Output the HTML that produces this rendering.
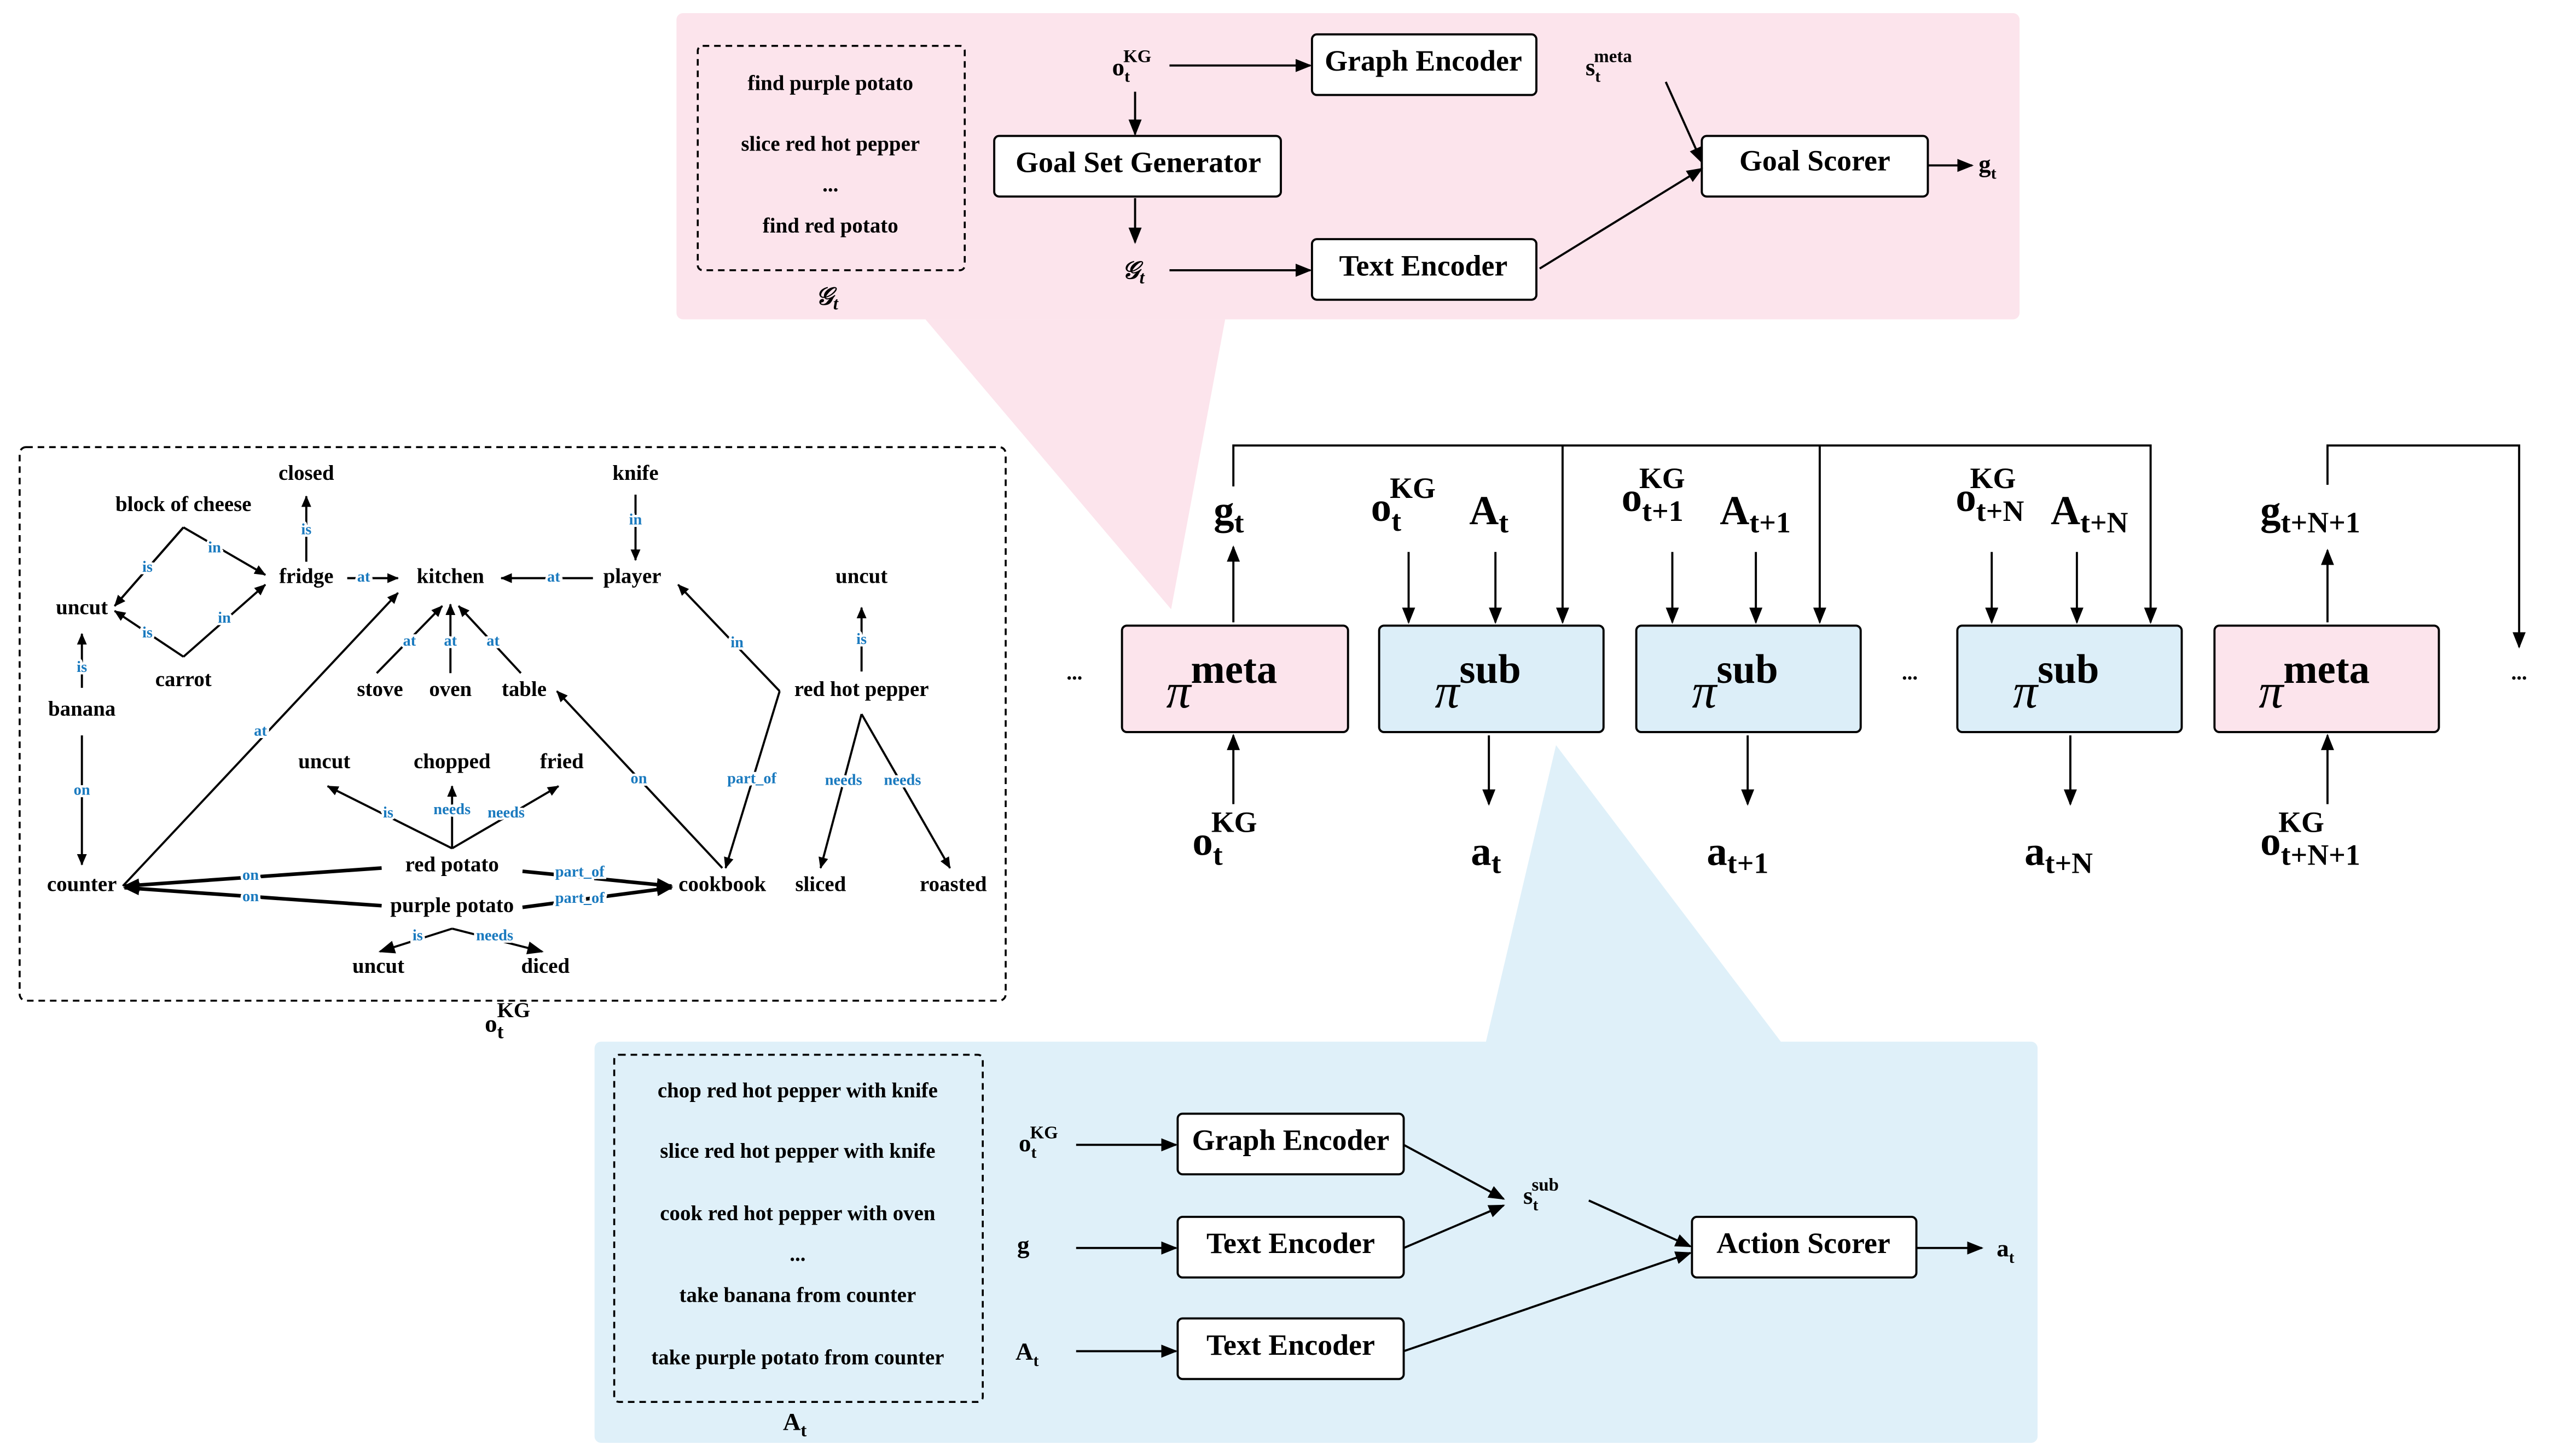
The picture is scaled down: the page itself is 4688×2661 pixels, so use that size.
<!DOCTYPE html>
<html><head><meta charset="utf-8"><style>
html,body{margin:0;padding:0;background:#fff;}
svg{display:block;}
text{font-family:"Liberation Serif",serif;font-weight:bold;fill:#000;}
.n{font-size:13px;text-anchor:middle;dominant-baseline:middle;}
.l{font-size:9.5px;fill:#1a7abf;text-anchor:middle;dominant-baseline:middle;stroke:#fff;stroke-width:3px;paint-order:stroke;}
.b{font-size:18px;text-anchor:middle;dominant-baseline:middle;}
.m{font-size:15px;}
.big{font-size:25px;}
.pi{font-size:30px;font-style:italic;font-weight:normal;}
line,polyline,path{stroke:#000;fill:none;stroke-width:1.3;}
.th{stroke-width:2.2;}
rect.box{fill:#fff;stroke:#000;stroke-width:1.3;}
</style></head><body>
<svg width="4688" height="2661" viewBox="0 0 1566 889" preserveAspectRatio="none" xmlns="http://www.w3.org/2000/svg">
<defs>
<marker id="a" markerWidth="10" markerHeight="8" refX="9" refY="4" orient="auto" markerUnits="userSpaceOnUse"><path d="M0,0 L10,4 L0,8 Z" style="fill:#000;stroke:none"/></marker>
<marker id="s" markerWidth="7" markerHeight="6" refX="6.5" refY="3" orient="auto" markerUnits="userSpaceOnUse"><path d="M0,0 L7,3 L0,6 Z" style="fill:#000;stroke:none"/></marker>
</defs>

<!-- pink panel -->
<polygon points="565,195 748,195 715,372" fill="#fce4ec"/>
<rect x="413" y="8" width="820" height="187" rx="4" fill="#fce4ec"/>
<rect x="426" y="28" width="163" height="137" rx="3" fill="none" stroke="#000" stroke-width="1.2" stroke-dasharray="4,3"/>
<text class="n" x="507" y="52">find purple potato</text>
<text class="n" x="507" y="89">slice red hot pepper</text>
<text class="n" x="507" y="114">...</text>
<text class="n" x="507" y="139">find red potato</text>
<text class="m" x="498" y="186" font-style="italic" font-weight="normal">𝒢<tspan font-size="11" dy="3">t</tspan></text>

<text class="m" x="679" y="46">o<tspan font-size="10" dy="4">t</tspan><tspan font-size="11" dx="-4" dy="-12">KG</tspan></text>
<line x1="714" y1="40" x2="800" y2="40" marker-end="url(#a)"/>
<rect class="box" x="801" y="21" width="137" height="37" rx="3"/>
<text class="b" x="869" y="39">Graph Encoder</text>
<text class="m" x="968" y="46">s<tspan font-size="10" dy="4">t</tspan><tspan font-size="11" dx="-4" dy="-12">meta</tspan></text>
<line x1="693" y1="56" x2="693" y2="82" marker-end="url(#a)"/>
<rect class="box" x="607" y="83" width="175" height="37" rx="3"/>
<text class="b" x="695" y="101">Goal Set Generator</text>
<line x1="693" y1="121" x2="693" y2="148" marker-end="url(#a)"/>
<text class="m" x="685" y="170" font-style="italic" font-weight="normal">𝒢<tspan font-size="11" dy="3">t</tspan></text>
<line x1="714" y1="165" x2="800" y2="165" marker-end="url(#a)"/>
<rect class="box" x="801" y="146" width="137" height="37" rx="3"/>
<text class="b" x="869" y="164">Text Encoder</text>
<rect class="box" x="1039" y="83" width="138" height="37" rx="3"/>
<text class="b" x="1108" y="100">Goal Scorer</text>
<line x1="1017" y1="50" x2="1039" y2="99" marker-end="url(#a)"/>
<line x1="940" y1="164" x2="1039" y2="103" marker-end="url(#a)"/>
<line x1="1177" y1="101" x2="1204" y2="101" marker-end="url(#a)"/>
<text class="m" x="1208" y="105">g<tspan font-size="10" dy="4">t</tspan></text>

<!-- blue panel -->
<polygon points="907,637 1088,637 950,455" fill="#dff0f9"/>
<rect x="363" y="636" width="881" height="245" rx="4" fill="#dff0f9"/>
<rect x="375" y="644" width="225" height="212" rx="3" fill="none" stroke="#000" stroke-width="1.2" stroke-dasharray="4,3"/>
<text class="n" x="487" y="667">chop red hot pepper with knife</text>
<text class="n" x="487" y="704">slice red hot pepper with knife</text>
<text class="n" x="487" y="742">cook red hot pepper with oven</text>
<text class="n" x="487" y="767">...</text>
<text class="n" x="487" y="792">take banana from counter</text>
<text class="n" x="487" y="830">take purple potato from counter</text>
<text class="m" x="478" y="873" font-size="17">A<tspan font-size="11" dy="4">t</tspan></text>
<text class="m" x="622" y="703">o<tspan font-size="10" dy="4">t</tspan><tspan font-size="11" dx="-4" dy="-12">KG</tspan></text>
<line x1="657" y1="699" x2="718" y2="699" marker-end="url(#a)"/>
<rect class="box" x="719" y="680" width="138" height="37" rx="3"/>
<text class="b" x="788" y="698">Graph Encoder</text>
<text class="m" x="621" y="765">g</text>
<line x1="657" y1="762" x2="718" y2="762" marker-end="url(#a)"/>
<rect class="box" x="719" y="743" width="138" height="37" rx="3"/>
<text class="b" x="788" y="761">Text Encoder</text>
<text class="m" x="620" y="830">A<tspan font-size="10" dy="4">t</tspan></text>
<line x1="657" y1="825" x2="718" y2="825" marker-end="url(#a)"/>
<rect class="box" x="719" y="805" width="138" height="37" rx="3"/>
<text class="b" x="788" y="823">Text Encoder</text>
<text class="m" x="930" y="735">s<tspan font-size="10" dy="4">t</tspan><tspan font-size="11" dx="-4" dy="-12">sub</tspan></text>
<line x1="857" y1="699" x2="918" y2="732" marker-end="url(#a)"/>
<line x1="857" y1="762" x2="918" y2="736" marker-end="url(#a)"/>
<line x1="970" y1="733" x2="1032" y2="761" marker-end="url(#a)"/>
<line x1="857" y1="825" x2="1032" y2="765" marker-end="url(#a)"/>
<rect class="box" x="1033" y="743" width="137" height="37" rx="3"/>
<text class="b" x="1101" y="761">Action Scorer</text>
<line x1="1170" y1="762" x2="1210" y2="762" marker-end="url(#a)"/>
<text class="m" x="1219" y="767">a<tspan font-size="10" dy="4">t</tspan></text>

<!-- middle row -->
<text class="n" x="656" y="412" font-size="16">...</text>
<text class="n" x="1166" y="412" font-size="16">...</text>
<text class="n" x="1538" y="412" font-size="16">...</text>
<rect x="685" y="382" width="138" height="65" rx="3" fill="#fce4ec" stroke="#000" stroke-width="1.3"/>
<rect x="842" y="382" width="137" height="65" rx="3" fill="#dceef8" stroke="#000" stroke-width="1.3"/>
<rect x="999" y="382" width="137" height="65" rx="3" fill="#dceef8" stroke="#000" stroke-width="1.3"/>
<rect x="1195" y="382" width="137" height="65" rx="3" fill="#dceef8" stroke="#000" stroke-width="1.3"/>
<rect x="1352" y="382" width="137" height="65" rx="3" fill="#fce4ec" stroke="#000" stroke-width="1.3"/>
<text x="712" y="432"><tspan class="pi">π</tspan><tspan class="big" dy="-15">meta</tspan></text>
<text x="876" y="432"><tspan class="pi">π</tspan><tspan class="big" dy="-15">sub</tspan></text>
<text x="1033" y="432"><tspan class="pi">π</tspan><tspan class="big" dy="-15">sub</tspan></text>
<text x="1229" y="432"><tspan class="pi">π</tspan><tspan class="big" dy="-15">sub</tspan></text>
<text x="1379" y="432"><tspan class="pi">π</tspan><tspan class="big" dy="-15">meta</tspan></text>

<polyline points="753,297 753,272 1313,272 1313,380" marker-end="url(#a)"/>
<line x1="954" y1="272" x2="954" y2="380" marker-end="url(#a)"/>
<line x1="1111" y1="272" x2="1111" y2="380" marker-end="url(#a)"/>
<polyline points="1421,296 1421,272 1538,272 1538,395" marker-end="url(#a)"/>

<text class="big" x="741" y="320">g<tspan font-size="18" dy="5">t</tspan></text>
<line x1="753" y1="380" x2="753" y2="334" marker-end="url(#a)"/>
<text class="big" x="837" y="318">o<tspan font-size="18" dy="6">t</tspan><tspan font-size="18" dx="-7" dy="-20">KG</tspan></text>
<text class="big" x="897" y="320">A<tspan font-size="18" dy="5">t</tspan></text>
<line x1="860" y1="337" x2="860" y2="380" marker-end="url(#a)"/>
<line x1="913" y1="337" x2="913" y2="380" marker-end="url(#a)"/>
<text class="big" x="990" y="312">o<tspan font-size="18" dy="6">t+1</tspan><tspan font-size="18" dx="-27" dy="-20">KG</tspan></text>
<text class="big" x="1050" y="320">A<tspan font-size="18" dy="5">t+1</tspan></text>
<line x1="1021" y1="337" x2="1021" y2="380" marker-end="url(#a)"/>
<line x1="1072" y1="337" x2="1072" y2="380" marker-end="url(#a)"/>
<text class="big" x="1194" y="312">o<tspan font-size="18" dy="6">t+N</tspan><tspan font-size="18" dx="-33" dy="-20">KG</tspan></text>
<text class="big" x="1252" y="320">A<tspan font-size="18" dy="5">t+N</tspan></text>
<line x1="1216" y1="337" x2="1216" y2="380" marker-end="url(#a)"/>
<line x1="1268" y1="337" x2="1268" y2="380" marker-end="url(#a)"/>
<text class="big" x="1380" y="320">g<tspan font-size="18" dy="5">t+N+1</tspan></text>
<line x1="1421" y1="380" x2="1421" y2="336" marker-end="url(#a)"/>

<line x1="753" y1="491" x2="753" y2="449" marker-end="url(#a)"/>
<text class="big" x="728" y="522">o<tspan font-size="18" dy="6">t</tspan><tspan font-size="18" dx="-7" dy="-20">KG</tspan></text>
<line x1="909" y1="449" x2="909" y2="491" marker-end="url(#a)"/>
<text class="big" x="898" y="528">a<tspan font-size="18" dy="5">t</tspan></text>
<line x1="1067" y1="449" x2="1067" y2="491" marker-end="url(#a)"/>
<text class="big" x="1042" y="528">a<tspan font-size="18" dy="5">t+1</tspan></text>
<line x1="1264" y1="449" x2="1264" y2="491" marker-end="url(#a)"/>
<text class="big" x="1236" y="528">a<tspan font-size="18" dy="5">t+N</tspan></text>
<line x1="1421" y1="491" x2="1421" y2="449" marker-end="url(#a)"/>
<text class="big" x="1380" y="522">o<tspan font-size="18" dy="6">t+N+1</tspan><tspan font-size="18" dx="-50" dy="-20">KG</tspan></text>

<!-- KG panel -->
<rect x="12" y="273" width="602" height="338" rx="4" fill="none" stroke="#000" stroke-width="1.2" stroke-dasharray="4,3"/>
<text class="m" x="296" y="630" font-size="17">o<tspan font-size="12" dy="4">t</tspan><tspan font-size="13" dx="-4" dy="-13">KG</tspan></text>

<g>
<line x1="187" y1="343" x2="187" y2="303" marker-end="url(#s)"/>
<polyline points="112,322 70,370"/>
<line x1="112" y1="322" x2="70" y2="370" marker-end="url(#s)"/>
<line x1="112" y1="322" x2="162" y2="351" marker-end="url(#s)"/>
<line x1="112" y1="401" x2="70" y2="373" marker-end="url(#s)"/>
<line x1="112" y1="401" x2="162" y2="357" marker-end="url(#s)"/>
<line x1="212" y1="353" x2="243" y2="353" marker-end="url(#s)"/>
<line x1="362" y1="353" x2="306" y2="353" marker-end="url(#s)"/>
<line x1="388" y1="302" x2="388" y2="342" marker-end="url(#s)"/>
<line x1="230" y1="411" x2="270" y2="370" marker-end="url(#s)"/>
<line x1="275" y1="411" x2="275" y2="369" marker-end="url(#s)"/>
<line x1="318" y1="411" x2="280" y2="370" marker-end="url(#s)"/>
<line x1="75" y1="541" x2="243" y2="362" marker-end="url(#s)"/>
<line x1="50" y1="449" x2="50" y2="528" marker-end="url(#s)"/>
<line x1="50" y1="420" x2="50" y2="387" marker-end="url(#s)"/>
<line x1="476" y1="422" x2="414" y2="357" marker-end="url(#s)"/>
<line x1="476" y1="422" x2="443" y2="530" marker-end="url(#s)"/>
<line x1="441" y1="530" x2="340" y2="422" marker-end="url(#s)"/>
<line x1="526" y1="410" x2="526" y2="371" marker-end="url(#s)"/>
<line x1="526" y1="436" x2="501" y2="530" marker-end="url(#s)"/>
<line x1="526" y1="436" x2="580" y2="530" marker-end="url(#s)"/>
<line x1="276" y1="518" x2="200" y2="480" marker-end="url(#s)"/>
<line x1="276" y1="518" x2="276" y2="480" marker-end="url(#s)"/>
<line x1="276" y1="518" x2="341" y2="480" marker-end="url(#s)"/>
<line class="th" x1="233" y1="530" x2="76" y2="541" marker-end="url(#a)"/>
<line class="th" x1="233" y1="553" x2="76" y2="542" marker-end="url(#a)"/>
<line class="th" x1="319" y1="532" x2="410" y2="541" marker-end="url(#a)"/>
<line class="th" x1="319" y1="554" x2="410" y2="542" marker-end="url(#a)"/>
<line x1="276" y1="567" x2="232" y2="581" marker-end="url(#a)"/>
<line x1="276" y1="567" x2="331" y2="581" marker-end="url(#a)"/>
</g>
<g>
<text class="l" x="187" y="324">is</text>
<text class="l" x="90" y="347">is</text>
<text class="l" x="131" y="335">in</text>
<text class="l" x="90" y="387">is</text>
<text class="l" x="137" y="378">in</text>
<text class="l" x="222" y="353">at</text>
<text class="l" x="338" y="353">at</text>
<text class="l" x="388" y="318">in</text>
<text class="l" x="250" y="392">at</text>
<text class="l" x="275" y="392">at</text>
<text class="l" x="301" y="392">at</text>
<text class="l" x="159" y="447">at</text>
<text class="l" x="50" y="483">on</text>
<text class="l" x="50" y="408">is</text>
<text class="l" x="450" y="393">in</text>
<text class="l" x="459" y="476">part_of</text>
<text class="l" x="390" y="476">on</text>
<text class="l" x="526" y="391">is</text>
<text class="l" x="515" y="477">needs</text>
<text class="l" x="551" y="477">needs</text>
<text class="l" x="237" y="497">is</text>
<text class="l" x="276" y="495">needs</text>
<text class="l" x="309" y="497">needs</text>
<text class="l" x="153" y="535">on</text>
<text class="l" x="153" y="548">on</text>
<text class="l" x="354" y="533">part_of</text>
<text class="l" x="354" y="549">part_of</text>
<text class="l" x="255" y="572">is</text>
<text class="l" x="302" y="572">needs</text>
</g>
<g>
<text class="n" x="187" y="290">closed</text>
<text class="n" x="388" y="290">knife</text>
<text class="n" x="112" y="309">block of cheese</text>
<text class="n" x="187" y="353">fridge</text>
<text class="n" x="275" y="353">kitchen</text>
<text class="n" x="386" y="353">player</text>
<text class="n" x="526" y="353">uncut</text>
<text class="n" x="50" y="372">uncut</text>
<text class="n" x="112" y="416">carrot</text>
<text class="n" x="50" y="434">banana</text>
<text class="n" x="232" y="422">stove</text>
<text class="n" x="275" y="422">oven</text>
<text class="n" x="320" y="422">table</text>
<text class="n" x="526" y="422">red hot pepper</text>
<text class="n" x="198" y="466">uncut</text>
<text class="n" x="276" y="466">chopped</text>
<text class="n" x="343" y="466">fried</text>
<text class="n" x="276" y="529">red potato</text>
<text class="n" x="50" y="541">counter</text>
<text class="n" x="276" y="554">purple potato</text>
<text class="n" x="441" y="541">cookbook</text>
<text class="n" x="501" y="541">sliced</text>
<text class="n" x="582" y="541">roasted</text>
<text class="n" x="231" y="591">uncut</text>
<text class="n" x="333" y="591">diced</text>
</g>
</svg>
</body></html>
